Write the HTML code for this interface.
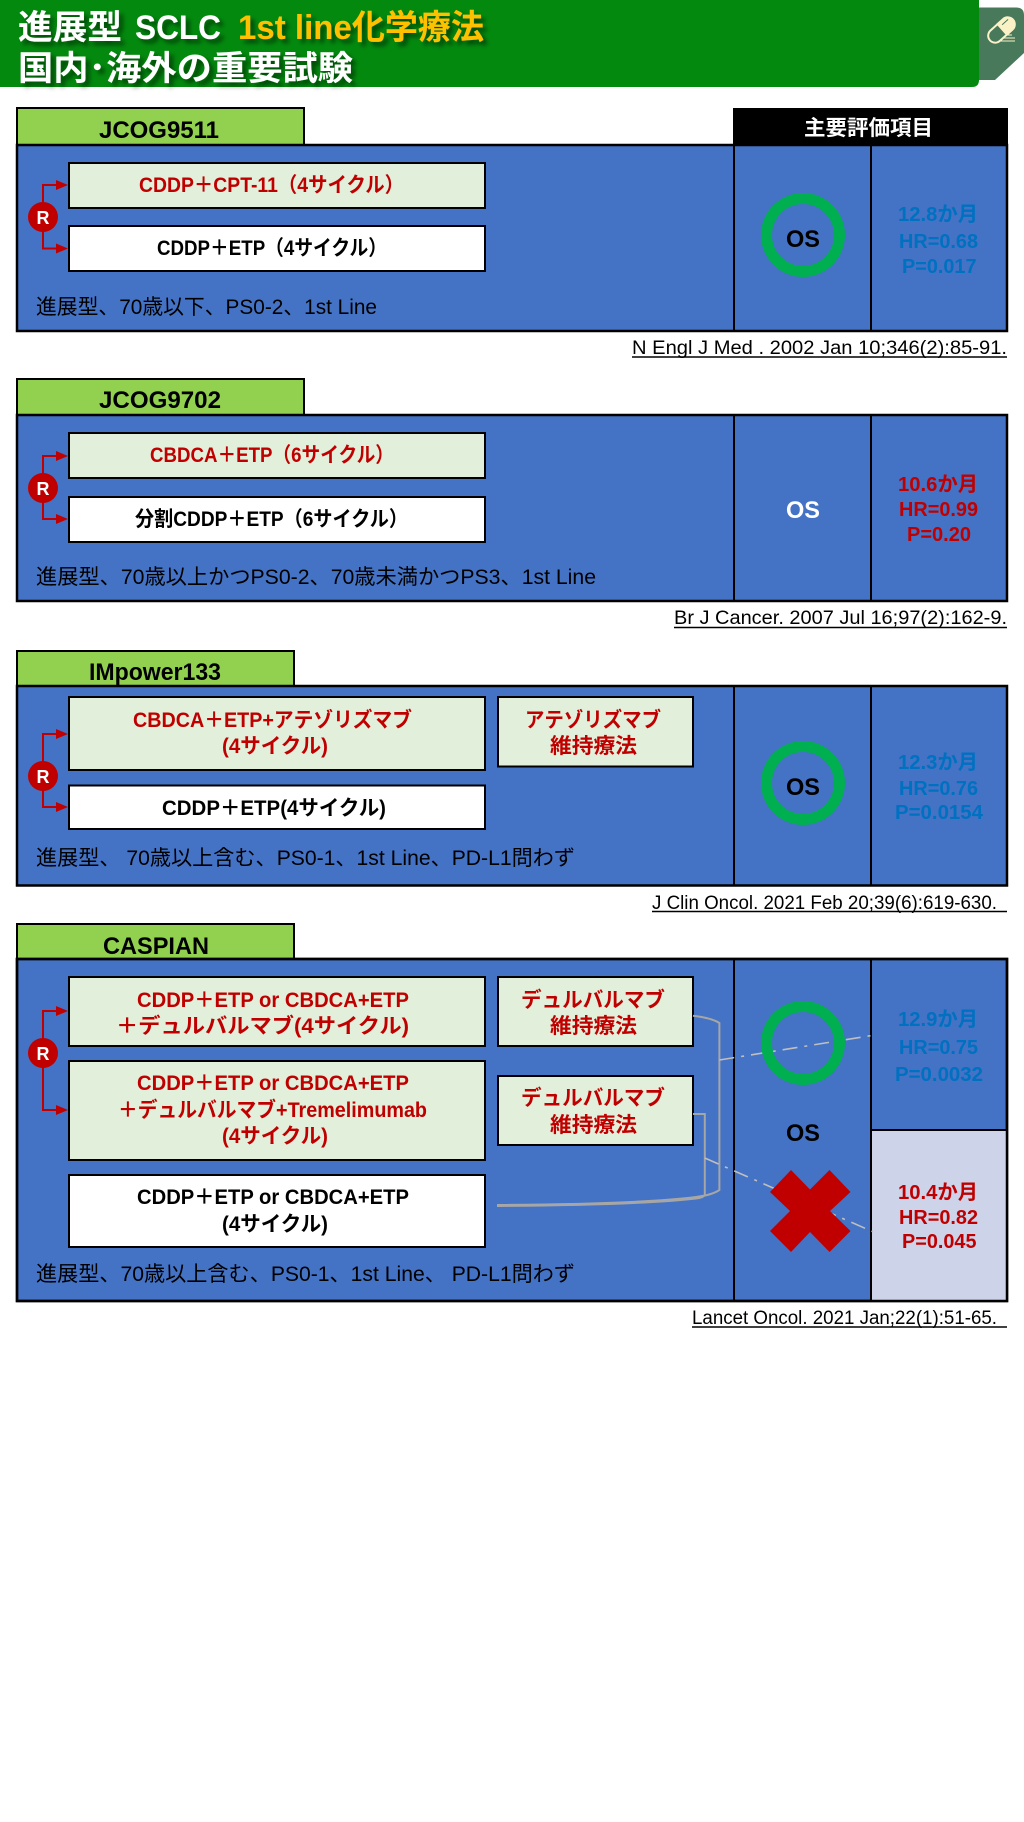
<!DOCTYPE html>
<html lang="ja"><head><meta charset="utf-8"><title>進展型 SCLC 1st line化学療法</title>
<style>
html,body{margin:0;padding:0;background:#fff;width:1024px;height:1822px;overflow:hidden}
svg{display:block}
text{font-family:"Liberation Sans","Noto Sans CJK JP",sans-serif;white-space:pre}
.b{font-weight:bold}
.h{font-weight:bold;font-size:34px;fill:#fff}
.t{font-weight:bold;font-size:24px;fill:#000}
.m{font-weight:bold;font-size:21px}
.r{fill:#C00000}.k{fill:#000}.u{fill:#0070C0}
.d{font-size:21px;fill:#000}
.c{font-size:19px;fill:#000}
.os{font-weight:bold;font-size:24px}
.s{font-weight:bold;font-size:20.5px}
.main{fill:#4472C4;stroke:#000;stroke-width:2.5}
.tab{fill:#92D050;stroke:#000;stroke-width:2}
.g{fill:#E2EFDA;stroke:#000;stroke-width:2}
.w{fill:#fff;stroke:#000;stroke-width:2}
.col{stroke:#000;stroke-width:2}
.ar{fill:none;stroke:#C00000;stroke-width:2}
.ah{fill:#C00000}
.ring{fill:none;stroke:#00B050;stroke-width:11}
</style></head><body>
<svg width="1024" height="1822" viewBox="0 0 1024 1822" xmlns="http://www.w3.org/2000/svg">
<defs><filter id="sh" x="-5%" y="-20%" width="115%" height="150%"><feDropShadow dx="4" dy="4" stdDeviation="2.5" flood-color="#000" flood-opacity=".5"/></filter></defs>

<!-- header -->
<path d="M970 7.500H1016Q1024 7.500 1024 15V53L995 80H970Z" fill="#47795A"/>
<path d="M0 0H979V80Q979 87 972 87H0Z" fill="#038A0E"/>
<g transform="translate(1001.500 30) rotate(-42)">
<rect x="-15.500" y="-7" width="31" height="14" rx="7" fill="none" stroke="#FBF1C7" stroke-width="2"/>
<path d="M0 -8H8A8 8 0 0 1 8 8H0Z" fill="#FBF1C7"/>
<path d="M4 -3.500H12" stroke="#47795A" stroke-width="1"/>
</g>
<path d="M1006 35H1012M1003 38H1015M1000 41H1015" stroke="#FBF1C7" stroke-width="1"/>
<g filter="url(#sh)">
<text class="h" x="18" y="39" textLength="104" lengthAdjust="spacingAndGlyphs">進展型</text>
<text class="h" x="135" y="39" textLength="86" lengthAdjust="spacingAndGlyphs">SCLC</text>
<text class="h" x="238" y="39" textLength="246" lengthAdjust="spacingAndGlyphs" style="fill:#FFC000">1st line化学療法</text>
<text class="h" x="18" y="80" textLength="335" lengthAdjust="spacingAndGlyphs">国内･海外の重要試験</text>
</g>

<!-- section 1 -->
<rect class="tab" x="17" y="108" width="287" height="37"/>
<rect x="733" y="108" width="275" height="38" fill="#000"/>
<text class="b" x="804" y="135" font-size="21" fill="#fff" textLength="129" lengthAdjust="spacingAndGlyphs">主要評価項目</text>
<text class="t" x="99" y="138" textLength="120" lengthAdjust="spacingAndGlyphs">JCOG9511</text>
<rect class="main" x="17" y="145" width="990" height="186"/>
<path class="col" d="M734 145V331M871 145V331"/>
<rect class="g" x="69" y="163" width="416" height="45"/>
<rect class="w" x="69" y="226" width="416" height="45"/>
<path class="ar" d="M43 217V185H58M43 217V248.500H58"/>
<path class="ah" d="M56 180L68 185L56 190ZM56 243.500L68 248.500L56 253.500Z"/>
<circle cx="43" cy="217" r="15" fill="#C00000"/>
<text class="b" x="43" y="224" font-size="18" fill="#fff" text-anchor="middle">R</text>
<text class="m r" x="139" y="192" textLength="265" lengthAdjust="spacingAndGlyphs">CDDP＋CPT-11（4サイクル）</text>
<text class="m k" x="157" y="255" textLength="230" lengthAdjust="spacingAndGlyphs">CDDP＋ETP（4サイクル）</text>
<text class="d" x="36" y="314" textLength="341" lengthAdjust="spacingAndGlyphs">進展型、70歳以下、PS0-2、1st Line</text>
<circle class="ring" cx="803" cy="235" r="36.500"/>
<text class="os k" x="786" y="247" textLength="34" lengthAdjust="spacingAndGlyphs">OS</text>
<text class="s u" x="898" y="221" textLength="80" lengthAdjust="spacingAndGlyphs">12.8か月</text>
<text class="s u" x="899" y="248" textLength="79" lengthAdjust="spacingAndGlyphs">HR=0.68</text>
<text class="s u" x="902" y="273" textLength="74.500" lengthAdjust="spacingAndGlyphs">P=0.017</text>
<text class="c" x="632" y="354" textLength="375" lengthAdjust="spacingAndGlyphs">N Engl J Med . 2002 Jan 10;346(2):85-91.</text>
<path d="M632 357H1007" stroke="#000" stroke-width="1.500"/>

<!-- section 2 -->
<rect class="tab" x="17" y="379" width="287" height="36"/>
<text class="t" x="99" y="408" textLength="122" lengthAdjust="spacingAndGlyphs">JCOG9702</text>
<rect class="main" x="17" y="415" width="990" height="186"/>
<path class="col" d="M734 415V601M871 415V601"/>
<rect class="g" x="69" y="433" width="416" height="45"/>
<rect class="w" x="69" y="497" width="416" height="45"/>
<path class="ar" d="M43 488V456H58M43 488V519H58"/>
<path class="ah" d="M56 451L68 456L56 461ZM56 514L68 519L56 524Z"/>
<circle cx="43" cy="488" r="15" fill="#C00000"/>
<text class="b" x="43" y="495" font-size="18" fill="#fff" text-anchor="middle">R</text>
<text class="m r" x="150" y="462" textLength="244" lengthAdjust="spacingAndGlyphs">CBDCA＋ETP（6サイクル）</text>
<text class="m k" x="135" y="526" textLength="273" lengthAdjust="spacingAndGlyphs">分割CDDP＋ETP（6サイクル）</text>
<text class="d" x="36" y="584" textLength="560" lengthAdjust="spacingAndGlyphs">進展型、70歳以上かつPS0-2、70歳未満かつPS3、1st Line</text>
<text class="os" x="786" y="518" fill="#fff" textLength="34" lengthAdjust="spacingAndGlyphs">OS</text>
<text class="s r" x="898" y="491" textLength="80" lengthAdjust="spacingAndGlyphs">10.6か月</text>
<text class="s r" x="899" y="516" textLength="79" lengthAdjust="spacingAndGlyphs">HR=0.99</text>
<text class="s r" x="907" y="541" textLength="64" lengthAdjust="spacingAndGlyphs">P=0.20</text>
<text class="c" x="674" y="624" textLength="333" lengthAdjust="spacingAndGlyphs">Br J Cancer. 2007 Jul 16;97(2):162-9.</text>
<path d="M674 627.500H1007" stroke="#000" stroke-width="1.500"/>

<!-- section 3 -->
<rect class="tab" x="17" y="651" width="277" height="35"/>
<text class="t" x="89" y="680" textLength="132" lengthAdjust="spacingAndGlyphs">IMpower133</text>
<rect class="main" x="17" y="686" width="990" height="199.500"/>
<path class="col" d="M734 686V885M871 686V885"/>
<rect class="g" x="69" y="697" width="416" height="73"/>
<rect class="g" x="498" y="697" width="195" height="69.500"/>
<rect class="w" x="69" y="785.500" width="416" height="43.500"/>
<path class="ar" d="M43 776V734H58M43 776V807H58"/>
<path class="ah" d="M56 729L68 734L56 739ZM56 802L68 807L56 812Z"/>
<circle cx="43" cy="776" r="15" fill="#C00000"/>
<text class="b" x="43" y="783" font-size="18" fill="#fff" text-anchor="middle">R</text>
<text class="m r" x="133" y="727" textLength="279" lengthAdjust="spacingAndGlyphs">CBDCA＋ETP+アテゾリズマブ</text>
<text class="m r" x="222" y="753" textLength="106" lengthAdjust="spacingAndGlyphs">(4サイクル)</text>
<text class="m r" x="525" y="727" textLength="136" lengthAdjust="spacingAndGlyphs">アテゾリズマブ</text>
<text class="m r" x="550" y="753" textLength="87" lengthAdjust="spacingAndGlyphs">維持療法</text>
<text class="m k" x="162" y="815" textLength="224" lengthAdjust="spacingAndGlyphs">CDDP＋ETP(4サイクル)</text>
<text class="d" x="36" y="865" textLength="539" lengthAdjust="spacingAndGlyphs">進展型、 70歳以上含む、PS0-1、1st Line、PD-L1問わず</text>
<circle class="ring" cx="803" cy="783" r="36.500"/>
<text class="os k" x="786" y="795" textLength="34" lengthAdjust="spacingAndGlyphs">OS</text>
<text class="s u" x="898" y="769" textLength="80" lengthAdjust="spacingAndGlyphs">12.3か月</text>
<text class="s u" x="899" y="795" textLength="79" lengthAdjust="spacingAndGlyphs">HR=0.76</text>
<text class="s u" x="895" y="819" textLength="88" lengthAdjust="spacingAndGlyphs">P=0.0154</text>
<text class="c" x="652" y="909" textLength="345" lengthAdjust="spacingAndGlyphs">J Clin Oncol. 2021 Feb 20;39(6):619-630.</text>
<path d="M652 911.500H1007" stroke="#000" stroke-width="1.500"/>

<!-- section 4 -->
<rect class="tab" x="17" y="924" width="277" height="35"/>
<text class="t" x="103" y="954" textLength="106" lengthAdjust="spacingAndGlyphs">CASPIAN</text>
<rect class="main" x="17" y="959" width="990" height="342"/>
<rect x="871" y="1130" width="136" height="171" fill="#CDD3E8"/>
<path class="col" d="M734 959V1301M871 959V1301M871 1130H1007"/>
<rect class="main" x="17" y="959" width="990" height="342" style="fill:none"/>
<rect class="g" x="69" y="977" width="416" height="69"/>
<rect class="g" x="498" y="977" width="195" height="69"/>
<rect class="g" x="69" y="1061" width="416" height="99"/>
<rect class="g" x="498" y="1076" width="195" height="69"/>
<rect class="w" x="69" y="1175" width="416" height="72"/>
<path class="ar" d="M43 1053V1011H58M43 1053V1110H58"/>
<path class="ah" d="M56 1006L68 1011L56 1016ZM56 1105L68 1110L56 1115Z"/>
<circle cx="43" cy="1053" r="15" fill="#C00000"/>
<text class="b" x="43" y="1060" font-size="18" fill="#fff" text-anchor="middle">R</text>
<text class="m r" x="137" y="1007" textLength="272" lengthAdjust="spacingAndGlyphs">CDDP＋ETP or CBDCA+ETP</text>
<text class="m r" x="116" y="1033" textLength="293" lengthAdjust="spacingAndGlyphs">＋デュルバルマブ(4サイクル)</text>
<text class="m r" x="137" y="1090" textLength="272" lengthAdjust="spacingAndGlyphs">CDDP＋ETP or CBDCA+ETP</text>
<text class="m r" x="118" y="1117" textLength="309" lengthAdjust="spacingAndGlyphs">＋デュルバルマブ+Tremelimumab</text>
<text class="m r" x="222" y="1143" textLength="106" lengthAdjust="spacingAndGlyphs">(4サイクル)</text>
<text class="m k" x="137" y="1204" textLength="272" lengthAdjust="spacingAndGlyphs">CDDP＋ETP or CBDCA+ETP</text>
<text class="m k" x="222" y="1231" textLength="106" lengthAdjust="spacingAndGlyphs">(4サイクル)</text>
<text class="m r" x="521" y="1007" textLength="144" lengthAdjust="spacingAndGlyphs">デュルバルマブ</text>
<text class="m r" x="550" y="1033" textLength="87" lengthAdjust="spacingAndGlyphs">維持療法</text>
<text class="m r" x="521" y="1105" textLength="144" lengthAdjust="spacingAndGlyphs">デュルバルマブ</text>
<text class="m r" x="550" y="1132" textLength="87" lengthAdjust="spacingAndGlyphs">維持療法</text>
<text class="d" x="36" y="1281" textLength="539" lengthAdjust="spacingAndGlyphs">進展型、70歳以上含む、PS0-1、1st Line、 PD-L1問わず</text>
<!-- connectors -->
<g fill="none" stroke="#A6A6A6" stroke-width="2">
<path d="M693 1015.700Q712 1018 719.400 1023V1190Q712 1195 696 1197Q640 1204 497 1205"/>
<path d="M693 1114H704.800V1195Q703 1198 696 1198.500Q640 1205 497 1206"/>
</g>
<path d="M719.400 1060L875 1035" stroke="#BFBFBF" stroke-width="1.600" stroke-dasharray="15 7 3 7"/>
<path d="M704.800 1158L872.800 1231.700" stroke="#BFBFBF" stroke-width="1.600" stroke-dasharray="15 7 3 7"/>
<circle class="ring" cx="803" cy="1043" r="36.500"/>
<text class="os k" x="786" y="1141" textLength="34" lengthAdjust="spacingAndGlyphs">OS</text>
<polygon fill="#C00000" points="791,1170 810,1189.500 829.500,1170 850.500,1192 830,1211 850.500,1231 829.500,1252 810,1232 791,1252 770,1231 790,1211 770,1192"/>
<text class="s u" x="898" y="1026" textLength="80" lengthAdjust="spacingAndGlyphs">12.9か月</text>
<text class="s u" x="899" y="1054" textLength="79" lengthAdjust="spacingAndGlyphs">HR=0.75</text>
<text class="s u" x="895" y="1081" textLength="88" lengthAdjust="spacingAndGlyphs">P=0.0032</text>
<text class="s r" x="898" y="1199" textLength="80" lengthAdjust="spacingAndGlyphs">10.4か月</text>
<text class="s r" x="899" y="1224" textLength="79" lengthAdjust="spacingAndGlyphs">HR=0.82</text>
<text class="s r" x="902" y="1248" textLength="74.500" lengthAdjust="spacingAndGlyphs">P=0.045</text>
<text class="c" x="692" y="1324" textLength="305" lengthAdjust="spacingAndGlyphs">Lancet Oncol. 2021 Jan;22(1):51-65.</text>
<path d="M692 1327H1007" stroke="#000" stroke-width="1.500"/>
</svg>
</body></html>
